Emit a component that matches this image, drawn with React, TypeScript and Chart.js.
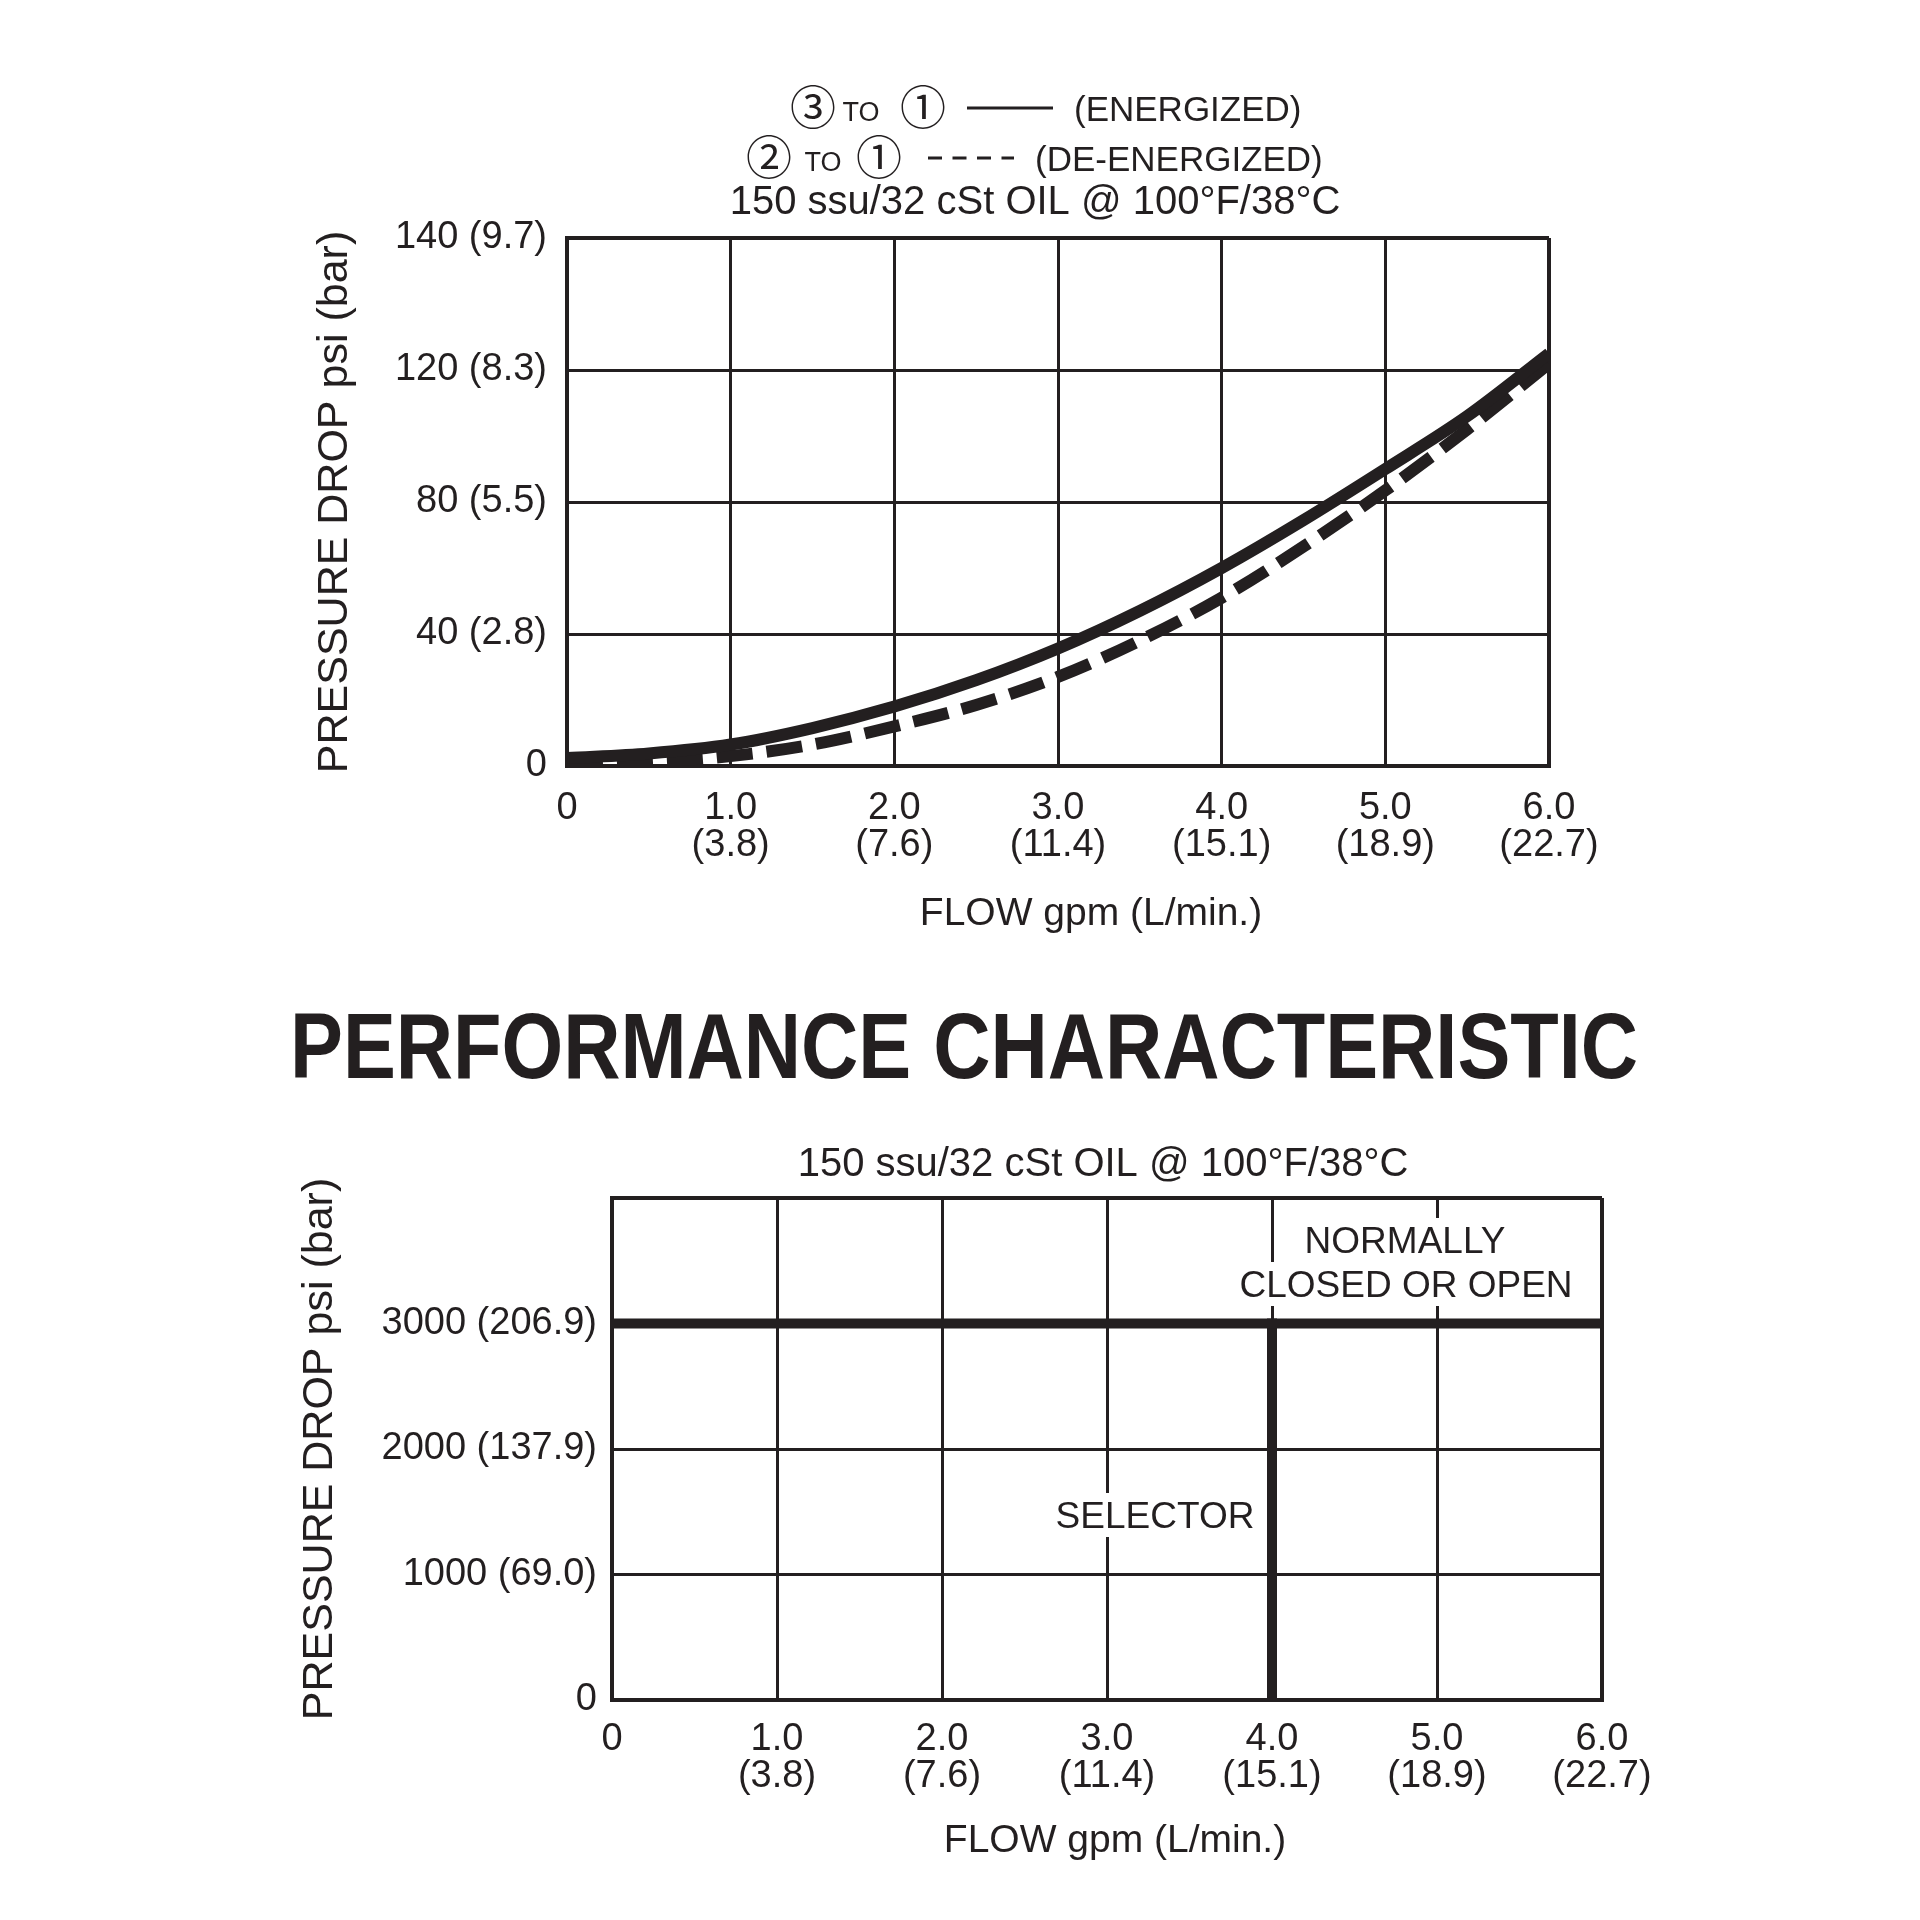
import React, { useEffect, useRef } from "react";
import { Chart, registerables } from "chart.js";

Chart.register(...registerables);

const INK = "#231f20";
const SANS = '"Liberation Sans", Arial, Helvetica, sans-serif';
const CIRCLED = '"Noto Sans CJK JP", "DejaVu Sans", sans-serif';

// ---- shared flow axis ----
const flowTicksGpm = [0, 1, 2, 3, 4, 5, 6];
const flowTickLabels: string[][] = [
  ["0"],
  ["1.0", "(3.8)"],
  ["2.0", "(7.6)"],
  ["3.0", "(11.4)"],
  ["4.0", "(15.1)"],
  ["5.0", "(18.9)"],
  ["6.0", "(22.7)"],
];

// ---- pressure drop chart: gridlines are evenly spaced at these values ----
const dropTicksPsi = [0, 40, 80, 120, 140];
const dropTickLabels = ["0", "40 (2.8)", "80 (5.5)", "120 (8.3)", "140 (9.7)"];

const curveFlowGpm = [0, 0.5, 1, 1.5, 2, 2.5, 3, 3.5, 4, 4.5, 5, 5.5, 6];
const energizedPsi = [2.4, 3.8, 6.5, 11.5, 18, 26, 35.6, 47, 60, 74.5, 90, 106, 122.5];
const deEnergizedPsi = [0.3, 1.3, 3, 6.5, 12, 18.5, 27, 38, 51, 66.5, 83.5, 102, 121];

// ---- pressure rating chart ----
const ratingTicksPsi = [0, 1000, 2000, 3000, 4000];
const ratingTickLabels = ["0", "1000 (69.0)", "2000 (137.9)", "3000 (206.9)", ""];
const ratedLineFlowGpm = [0, 6];
const ratedLinePsi = [3000, 3000];
const selectorLineFlowGpm = [4, 4];
const selectorLinePsi = [0, 3000];

// position of a psi value on the evenly spaced pressure-drop grid
function psiToGrid(psi: number): number {
  for (let i = 0; i < dropTicksPsi.length - 1; i++) {
    const a = dropTicksPsi[i];
    const b = dropTicksPsi[i + 1];
    if (psi <= b || i === dropTicksPsi.length - 2) {
      return i + (psi - a) / (b - a);
    }
  }
  return 0;
}

function txt(
  ctx: CanvasRenderingContext2D,
  s: string,
  x: number,
  y: number,
  font: string,
  align: CanvasTextAlign = "center",
  baseline: CanvasTextBaseline = "alphabetic"
) {
  ctx.font = font;
  ctx.textAlign = align;
  ctx.textBaseline = baseline;
  ctx.fillStyle = INK;
  ctx.fillText(s, x, y);
}

function gridWidth(maxValue: number) {
  return (c: any) => (c.tick && c.tick.value === maxValue ? 4 : 3);
}

const pressureDropHeader = {
  id: "pressureDropHeader",
  afterDraw(chart: Chart) {
    const ctx = chart.ctx;
    ctx.save();
    const big = `35px ${SANS}`;
    const small = `27px ${SANS}`;
    const circ = `46px ${CIRCLED}`;
    // line 1: energized path
    txt(ctx, "③", 813, 124, circ);
    txt(ctx, "TO", 861, 121, small);
    txt(ctx, "①", 923, 124, circ);
    ctx.strokeStyle = INK;
    ctx.lineWidth = 3;
    ctx.beginPath();
    ctx.moveTo(967, 108);
    ctx.lineTo(1053, 108);
    ctx.stroke();
    txt(ctx, "(ENERGIZED)", 1074, 121, big, "left");
    // line 2: de-energized path
    txt(ctx, "②", 769, 174, circ);
    txt(ctx, "TO", 823, 171, small);
    txt(ctx, "①", 879, 174, circ);
    ctx.setLineDash([14, 10.5]);
    ctx.beginPath();
    ctx.moveTo(928, 158);
    ctx.lineTo(1014, 158);
    ctx.stroke();
    ctx.setLineDash([]);
    txt(ctx, "(DE-ENERGIZED)", 1035, 171, big, "left");
    // line 3: test conditions
    txt(ctx, "150 ssu/32 cSt OIL @ 100°F/38°C", 1035, 214, `40px ${SANS}`);
    // flow axis title
    txt(ctx, "FLOW gpm (L/min.)", 1091, 914, `39px ${SANS}`, "center", "middle");
    ctx.restore();
  },
};

const ratingHeader = {
  id: "ratingHeader",
  beforeDatasetsDraw(chart: Chart) {
    const ctx = chart.ctx;
    ctx.save();
    const f = `37px ${SANS}`;
    const boxed = (s: string, cx: number, cy: number) => {
      ctx.font = f;
      const w = ctx.measureText(s).width;
      ctx.fillStyle = "#ffffff";
      ctx.fillRect(cx - w / 2 - 4, cy - 22, w + 8, 44);
      txt(ctx, s, cx, cy + 13, f);
    };
    boxed("NORMALLY", 1405, 280);
    boxed("CLOSED OR OPEN", 1406, 324);
    boxed("SELECTOR", 1155, 555);
    ctx.restore();
  },
  afterDraw(chart: Chart) {
    const ctx = chart.ctx;
    ctx.save();
    // section heading
    ctx.font = `bold 92px ${SANS}`;
    const heading = "PERFORMANCE CHARACTERISTIC";
    const w = ctx.measureText(heading).width;
    const sx = 1348 / w;
    ctx.translate(964, 118);
    ctx.scale(sx, 1);
    ctx.textAlign = "center";
    ctx.textBaseline = "alphabetic";
    ctx.fillStyle = INK;
    ctx.fillText(heading, 0, 0);
    ctx.setTransform(1, 0, 0, 1, 0, 0);
    txt(ctx, "150 ssu/32 cSt OIL @ 100°F/38°C", 1103, 216, `40px ${SANS}`);
    txt(ctx, "FLOW gpm (L/min.)", 1115, 881, `39px ${SANS}`, "center", "middle");
    ctx.restore();
  },
};

function flowAxis(padding: number) {
  return {
    type: "linear" as const,
    min: 0,
    max: 6,
    afterBuildTicks: (s: any) => {
      s.ticks = flowTicksGpm.map((v) => ({ value: v }));
    },
    afterFit: (s: any) => {
      s.height = 120;
    },
    ticks: {
      autoSkip: false,
      maxRotation: 0,
      padding,
      color: INK,
      font: { family: SANS, size: 38, lineHeight: 0.97 },
      callback: (v: any) => flowTickLabels[flowTicksGpm.indexOf(Number(v))] ?? "",
    },
    grid: { color: INK, lineWidth: gridWidth(6), drawTicks: false },
    border: { color: INK, width: 4 },
  };
}

function yTitle() {
  return {
    display: true,
    text: "PRESSURE DROP psi (bar)",
    color: INK,
    padding: 0,
    font: { family: SANS, size: 43, lineHeight: 1.2 },
  };
}

function ChartCanvas({ config, top }: { config: any; top: number }) {
  const ref = useRef<HTMLCanvasElement | null>(null);
  useEffect(() => {
    if (!ref.current) return;
    const chart = new Chart(ref.current, config);
    return () => chart.destroy();
  }, [config]);
  return (
    <canvas
      ref={ref}
      width={1920}
      height={960}
      style={{ position: "absolute", left: 0, top, width: 1920, height: 960 }}
    />
  );
}

const pressureDropConfig = {
  type: "line",
  data: {
    datasets: [
      {
        label: "3 TO 1 (ENERGIZED)",
        data: curveFlowGpm.map((x, i) => ({ x, y: psiToGrid(energizedPsi[i]) })),
        borderColor: INK,
        borderWidth: 12,
        pointRadius: 0,
        fill: false,
        cubicInterpolationMode: "monotone",
        borderCapStyle: "butt",
      },
      {
        label: "2 TO 1 (DE-ENERGIZED)",
        data: curveFlowGpm.map((x, i) => ({ x, y: psiToGrid(deEnergizedPsi[i]) })),
        borderColor: INK,
        borderWidth: 12,
        borderDash: [36, 14],
        pointRadius: 0,
        fill: false,
        cubicInterpolationMode: "monotone",
        borderCapStyle: "butt",
      },
    ],
  },
  options: {
    animation: false,
    responsive: false,
    events: [],
    layout: { padding: { left: 309, right: 371, top: 238, bottom: 74 } },
    plugins: { legend: { display: false }, tooltip: { enabled: false } },
    scales: {
      x: flowAxis(24),
      y: {
        type: "linear",
        min: 0,
        max: 4,
        afterFit: (s: any) => {
          s.width = 258;
        },
        ticks: {
          stepSize: 1,
          padding: 20,
          color: INK,
          font: { family: SANS, size: 38 },
          callback: (v: any) => dropTickLabels[Number(v)] ?? "",
        },
        grid: { color: INK, lineWidth: gridWidth(4), drawTicks: false },
        border: { color: INK, width: 4 },
        title: yTitle(),
      },
    },
  },
  plugins: [pressureDropHeader],
};

const ratingConfig = {
  type: "line",
  data: {
    datasets: [
      {
        label: "NORMALLY CLOSED OR OPEN",
        data: ratedLineFlowGpm.map((x, i) => ({ x, y: ratedLinePsi[i] })),
        borderColor: INK,
        borderWidth: 10,
        pointRadius: 0,
        fill: false,
        borderCapStyle: "butt",
      },
      {
        label: "SELECTOR",
        data: selectorLineFlowGpm.map((x, i) => ({ x, y: selectorLinePsi[i] })),
        borderColor: INK,
        borderWidth: 10,
        pointRadius: 0,
        fill: false,
        borderCapStyle: "square",
      },
    ],
  },
  options: {
    animation: false,
    responsive: false,
    events: [],
    layout: { padding: { left: 294, right: 318, top: 238, bottom: 100 } },
    plugins: { legend: { display: false }, tooltip: { enabled: false } },
    scales: {
      x: flowAxis(21),
      y: {
        type: "linear",
        min: 0,
        max: 4000,
        afterBuildTicks: (s: any) => {
          s.ticks = ratingTicksPsi.map((v) => ({ value: v }));
        },
        afterFit: (s: any) => {
          s.width = 318;
        },
        ticks: {
          padding: 15,
          color: INK,
          font: { family: SANS, size: 38 },
          callback: (v: any) => ratingTickLabels[ratingTicksPsi.indexOf(Number(v))] ?? "",
        },
        grid: { color: INK, lineWidth: gridWidth(4000), drawTicks: false },
        border: { color: INK, width: 4 },
        title: yTitle(),
      },
    },
  },
  plugins: [ratingHeader],
};

export default function App() {
  return (
    <div
      style={{
        position: "absolute",
        left: 0,
        top: 0,
        width: 1920,
        height: 1920,
        background: "#ffffff",
        overflow: "hidden",
      }}
    >
      <ChartCanvas config={pressureDropConfig} top={0} />
      <ChartCanvas config={ratingConfig} top={960} />
    </div>
  );
}
